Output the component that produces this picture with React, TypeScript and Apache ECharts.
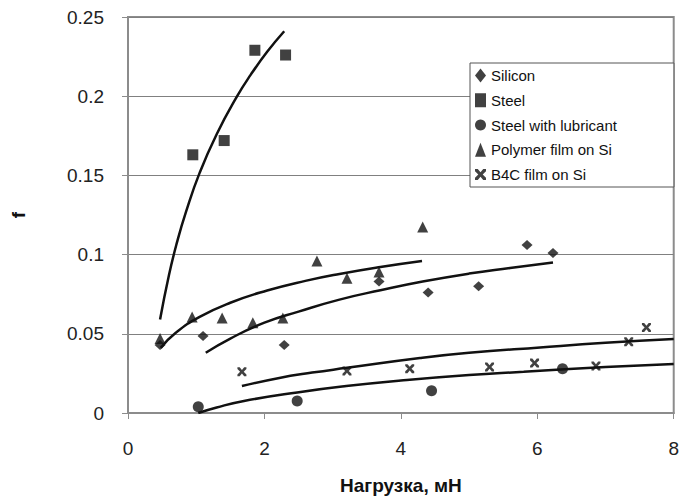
import React, { useEffect, useRef } from "react";
import * as echarts from "echarts";

// ---- data ----
const xTicks = [0, 2, 4, 6, 8];
const yTicks = [0, 0.05, 0.1, 0.15, 0.2, 0.25];

const seriesNames = [
  "Silicon",
  "Steel",
  "Steel with lubricant",
  "Polymer film on Si",
  "B4C film on Si",
];

const siliconPts = [
  [0.47, 0.043], [1.1, 0.0486], [2.29, 0.043], [3.68, 0.083],
  [4.4, 0.076], [5.14, 0.08], [5.85, 0.106], [6.23, 0.101],
];
const steelPts = [
  [0.95, 0.163], [1.41, 0.172], [1.86, 0.229], [2.31, 0.226],
];
const lubricantPts = [
  [1.03, 0.004], [2.48, 0.0076], [4.45, 0.014], [6.37, 0.028],
];
const polymerPts = [
  [0.47, 0.047], [0.94, 0.0606], [1.38, 0.06], [1.83, 0.057], [2.27, 0.06],
  [2.77, 0.096], [3.21, 0.085], [3.68, 0.089], [4.32, 0.1175],
];
const b4cPts = [
  [1.67, 0.026], [3.21, 0.0265], [4.13, 0.028], [5.3, 0.029],
  [5.96, 0.0315], [6.86, 0.0297], [7.34, 0.045], [7.6, 0.054],
];

// trend lines
const siliconTrend = [
  [1.14, 0.038], [1.5, 0.047], [2, 0.057], [2.5, 0.064], [3.1, 0.0716],
  [3.7, 0.0775], [4.32, 0.083], [5, 0.088], [5.6, 0.0915], [6.23, 0.095],
];
const steelTrend = [
  [0.47, 0.059], [0.6, 0.087], [0.72, 0.108], [0.85, 0.127], [1.05, 0.1516],
  [1.3, 0.176], [1.6, 0.2], [1.8, 0.2136], [2.04, 0.228], [2.29, 0.241],
];
const lubricantTrend = [
  [1.03, 0], [1.3, 0.0035], [1.7, 0.0076], [2.48, 0.013], [3.2, 0.017],
  [4, 0.0205], [5, 0.024], [5.8, 0.026], [7, 0.029], [8, 0.031],
];
const polymerTrend = [
  [0.48, 0.0411], [0.7, 0.0506], [1.05, 0.0607], [1.5, 0.0696], [2.04, 0.0773],
  [2.6, 0.0834], [3.1, 0.0878], [3.7, 0.0922], [4.31, 0.096],
];
const b4cTrend = [
  [1.67, 0.017], [2.2, 0.022], [2.7, 0.0255], [3.21, 0.0285], [4.28, 0.0347],
  [5, 0.038], [6.04, 0.0414], [7, 0.0443], [8, 0.0467],
];

const xName = "Нагрузка, мН";
const yName = "f";

const FONT = "'Liberation Sans', Arial, Helvetica, sans-serif";
const crossPath =
  "path://M0,0 L2.5,0 L5,3 L7.5,0 L10,0 L10,2 L7,5 L10,8 L10,10 L7.5,10 L5,7 L2.5,10 L0,10 L0,8 L3,5 L0,2 Z";

export default function App() {
  const ref = useRef<HTMLDivElement>(null);

  useEffect(() => {
    if (!ref.current) return;
    const chart = echarts.init(ref.current, null, { renderer: "svg" });

    const scatter = (name: string, data: number[][], symbol: string, size: any) => ({
      name,
      type: "scatter",
      data,
      symbol,
      symbolSize: size,
      itemStyle: { color: "#111" },
      z: 3,
    });
    const trend = (name: string, data: number[][]) => ({
      name,
      type: "line",
      data,
      smooth: true,
      showSymbol: false,
      symbol: "none",
      lineStyle: { color: "#111", width: 2.5 },
      z: 2,
      silent: true,
    });

    chart.setOption({
      animation: false,
      backgroundColor: "#fff",
      textStyle: { fontFamily: FONT },
      grid: {
        left: 128,
        right: 8,
        top: 17,
        bottom: 90,
        show: true,
        borderColor: "#8c8c8c",
        borderWidth: 2,
        backgroundColor: "transparent",
      },
      legend: {
        data: seriesNames,
        orient: "vertical",
        left: 470,
        top: 63,
        itemWidth: 11,
        itemHeight: 14,
        itemGap: 9.75,
        padding: [5, 57, 5, 5],
        backgroundColor: "#fff",
        borderColor: "#555",
        borderWidth: 1,
        borderRadius: 0,
        textStyle: { fontSize: 15, color: "#111", fontFamily: FONT },
        selectedMode: false,
      },
      xAxis: {
        type: "value",
        min: xTicks[0],
        max: xTicks[xTicks.length - 1],
        interval: 2,
        name: xName,
        nameLocation: "middle",
        nameGap: 63,
        nameTextStyle: { fontSize: 19, fontWeight: "bold", color: "#111", fontFamily: FONT },
        axisLine: { show: true, lineStyle: { color: "#8c8c8c", width: 2 } },
        axisTick: { show: true, length: 6, lineStyle: { color: "#8c8c8c", width: 1 } },
        axisLabel: { fontSize: 19, color: "#222", margin: 26, fontFamily: FONT },
        splitLine: { show: false },
      },
      yAxis: {
        type: "value",
        min: yTicks[0],
        max: yTicks[yTicks.length - 1],
        interval: 0.05,
        name: yName,
        nameLocation: "middle",
        nameRotate: 90,
        nameGap: 100,
        nameTextStyle: { fontSize: 19, fontWeight: "bold", color: "#111", fontFamily: FONT },
        axisLine: { show: true, lineStyle: { color: "#8c8c8c", width: 2 } },
        axisTick: { show: true, length: 6, lineStyle: { color: "#8c8c8c", width: 1 } },
        axisLabel: {
          fontSize: 19,
          color: "#222",
          margin: 24,
          fontFamily: FONT,
          formatter: (v: number) => String(Math.round(v * 100) / 100),
        },
        splitLine: { show: true, lineStyle: { color: "#808080", width: 1 } },
      },
      series: [
        scatter(seriesNames[0], siliconPts, "diamond", [11, 10]),
        scatter(seriesNames[1], steelPts, "rect", 11),
        scatter(seriesNames[2], lubricantPts, "circle", 11),
        scatter(seriesNames[3], polymerPts, "triangle", 11),
        scatter(seriesNames[4], b4cPts, crossPath, 9),
        trend("Silicon trend", siliconTrend),
        trend("Steel trend", steelTrend),
        trend("Steel with lubricant trend", lubricantTrend),
        trend("Polymer trend", polymerTrend),
        trend("B4C trend", b4cTrend),
      ],
    });

    return () => chart.dispose();
  }, []);

  return <div ref={ref} style={{ width: 682, height: 503, position: "absolute", left: 0, top: 0 }} />;
}
